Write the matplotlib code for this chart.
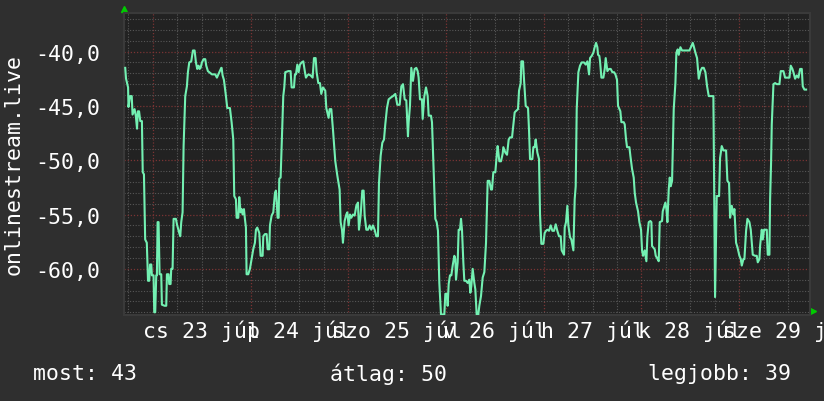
import matplotlib
matplotlib.use("Agg")
import matplotlib.pyplot as plt
import matplotlib.transforms as mtransforms
from matplotlib.ticker import FixedLocator, MultipleLocator, FuncFormatter

# hours since 23 Jul 00:00, signal value
hours = [-6.8, -6.6, -6.1, -6.0, -5.6, -5.2, -5.0, -4.5, -4.2, -3.9, -3.7, -3.4, -3.1, -2.7, -2.5, -2.2,
         -1.9, -1.5, -1.2, -0.9, -0.7, -0.4, -0.25, 0.16, 0.33, 0.57, 0.82, 0.98, 1.15, 1.39, 1.64, 2.05,
         2.21, 2.87, 3.28, 3.44, 3.85, 4.01, 4.34, 4.5, 4.83, 5.08, 5.65, 5.9, 6.47, 6.72, 6.96, 7.29,
         7.54, 7.94, 8.35, 8.6, 8.93, 9.42, 9.83, 10.24, 10.57, 10.89, 11.22, 11.47, 11.71, 12.04, 12.45,
         12.86, 13.1, 13.51, 13.84, 14.5, 15.31, 15.72, 16.3, 16.79,
         16.87, 17.12, 17.44, 17.94, 18.26, 18.92, 19.33, 19.74, 19.98, 20.39, 20.56, 20.97, 21.21, 21.54,
         21.79, 22.03, 22.36, 22.6, 22.85, 23.01, 23.42, 23.83, 24.24, 24.65, 25.06, 25.31, 25.63, 26.13,
         26.45, 26.95, 27.11, 27.52, 27.93, 28.18, 28.59, 28.75, 29.16, 29.57, 29.98, 30.22, 30.39, 30.63,
         30.88, 31.04, 31.37, 31.62, 32.02, 32.27, 32.51, 33.25, 33.82, 34.07, 34.65, 34.89, 35.14, 35.47,
         35.79, 36.12, 36.53, 36.94, 37.35, 37.59, 37.92, 38.25, 38.74, 39.23, 39.56, 39.97, 40.21, 40.62,
         41.03,
         41.36, 41.77, 42.34, 42.59, 43.16, 43.41, 43.82, 44.23, 44.8, 45.29, 45.86, 46.11, 46.44, 46.68,
         47.09, 47.5, 47.75, 48.07, 48.4, 48.73, 49.14, 49.55, 49.96, 50.37, 50.61, 51.02, 51.43, 51.76,
         52.01, 52.42, 52.83, 53.23, 53.64, 54.05, 54.46, 54.87, 55.28, 55.53, 55.94, 56.35, 56.76, 57.08,
         57.49, 57.9, 58.56, 58.97, 59.54, 60.03, 60.61, 61.02, 61.43, 61.84, 62.24, 62.65, 62.82, 63.14,
         63.47, 63.88, 64.29, 64.7,
         65.03, 65.27, 65.6, 66.09, 66.26, 66.67, 67.08, 67.49, 67.73, 68.3, 68.55, 68.88, 69.37, 69.7,
         70.02, 70.35, 70.76, 71.58, 71.83, 72.24, 72.4, 72.65, 72.97, 73.3, 73.63, 74.04, 74.28, 74.45,
         74.86, 75.1, 75.43, 75.68, 75.92, 76.25, 76.49, 76.9, 77.31, 77.72, 77.97, 78.21, 78.54, 78.95,
         79.2, 79.52, 79.93, 80.18, 80.59, 81.0, 81.41, 81.82, 82.23, 82.64, 83.05, 83.29, 83.62, 84.11,
         84.44, 84.68, 85.09, 85.5, 85.91, 86.08, 86.57, 86.98, 87.39, 87.71, 88.21, 88.53, 88.86, 89.11,
         89.68, 89.93, 90.34, 90.5, 90.91, 91.16, 91.57, 92.14, 92.38, 92.63, 93.2, 93.45, 93.77, 94.02,
         94.43, 94.84, 95.09, 95.41, 95.9, 96.23, 96.56, 96.89, 97.3, 97.71, 98.12, 98.53, 98.94, 99.34,
         99.75, 100.16, 100.41, 100.98, 101.15, 101.47, 101.8, 102.05, 102.46, 102.78, 103.28, 103.6,
         103.85, 104.1, 104.51, 104.91, 105.32, 105.9, 106.31, 106.72, 107.13, 107.37, 107.78, 108.19,
         108.52, 108.85, 109.17, 109.34, 109.66, 109.83, 110.16, 110.65, 110.98, 111.22, 111.63, 112.04,
         112.45, 112.86, 113.27,
         113.6, 114.0, 114.25, 114.58, 114.82, 115.07, 115.64, 115.89, 116.22, 116.46, 117.04, 117.28,
         117.69, 118.1, 118.35, 118.67, 119.16, 119.49, 119.9, 120.15, 120.39, 120.8, 121.21, 121.46,
         121.79, 122.19, 122.44, 122.6, 123.26, 123.51, 123.83, 124.24, 124.49, 125.06, 125.23, 125.47,
         125.88, 126.13, 126.37, 126.7, 126.95, 127.19, 127.52, 127.93, 128.34, 128.58, 128.91, 129.16,
         129.57, 129.97, 131.78, 132.27, 132.6, 132.84, 133.25, 133.66, 134.07, 134.48, 134.89, 135.3,
         135.71, 136.12, 136.53, 137.35,
         137.67, 138.08, 138.49, 139.07, 139.31, 139.72, 140.13, 140.79, 141.11, 141.52, 141.77, 142.18,
         142.59, 142.83, 143.24, 143.57, 144.06, 144.39, 144.64, 145.05, 145.29, 145.7, 146.03, 146.52,
         146.85, 147.34, 147.91, 148.32, 148.57, 148.98, 149.14, 149.55, 149.8, 150.12, 150.78, 151.02,
         151.43, 151.6, 151.84, 152.01, 152.42, 152.83, 153.24, 153.89, 154.22, 154.87, 155.28, 156.35,
         156.67, 157.08, 157.33, 157.74, 158.15, 158.56, 158.97, 159.38, 159.62, 160.03, 160.44]

values = [-41.5, -42.5, -43.3, -45.1, -44.1, -44.1, -45.8, -45.3, -45.9, -47.1, -45.5, -45.5, -46.4, -46.4,
          -51.1, -51.3, -57.3, -57.6, -61.1, -61.1, -59.6, -59.6, -60.6, -60.6, -64.0, -64.0, -60.6, -60.6,
          -55.7, -55.7, -60.5, -60.5, -63.3, -63.4, -63.4, -60.5, -60.5, -61.4, -61.4, -60.0, -60.0, -55.4,
          -55.4, -55.9, -56.7, -57.0, -55.7, -54.8, -48.7, -44.1, -43.2, -41.9, -41.0, -40.9, -39.9, -39.9,
          -41.0, -41.6, -41.3, -41.6, -41.5, -41.0, -40.7, -40.7, -41.3, -41.8, -41.9, -42.1, -42.1, -42.4,
          -41.9, -41.5,
          -41.5, -42.2, -42.6, -44.1, -45.2, -45.2, -46.5, -48.1, -53.3, -53.6, -55.3, -55.3, -53.4, -54.8,
          -54.5, -55.0, -54.5, -55.4, -56.2, -60.5, -60.5, -60.0, -59.1, -58.2, -57.6, -56.4, -56.2, -56.7,
          -58.8, -58.8, -57.0, -56.8, -56.8, -58.2, -58.2, -56.0, -55.1, -54.8, -53.0, -52.8, -53.7, -55.3,
          -55.3, -51.7, -51.6, -48.7, -44.1, -43.3, -41.9, -41.8, -41.8, -43.3, -43.3, -42.1, -42.1, -41.2,
          -41.9, -41.2, -41.0, -40.9, -41.9, -42.4, -42.2, -42.1, -42.2, -42.4, -40.6, -40.6, -41.9, -42.9,
          -42.9,
          -43.9, -43.3, -43.6, -45.2, -46.1, -45.3, -45.3, -47.2, -50.1, -51.4, -52.7, -55.7, -56.4, -57.6,
          -55.6, -55.0, -54.8, -56.0, -55.0, -55.3, -55.0, -55.1, -54.2, -53.9, -56.4, -55.1, -52.8, -52.8,
          -55.1, -56.4, -56.4, -56.0, -56.4, -56.0, -56.4, -57.0, -57.0, -52.1, -49.6, -48.4, -48.1, -46.7,
          -45.2, -44.4, -44.2, -44.1, -43.9, -44.9, -44.9, -43.2, -43.0, -44.4, -44.5, -47.8, -46.5, -45.0,
          -41.5, -42.7, -41.6, -41.5,
          -41.8, -42.4, -44.4, -44.4, -46.2, -44.1, -43.3, -44.1, -45.9, -45.9, -46.5, -50.1, -55.4, -55.7,
          -56.5, -61.3, -64.2, -64.2, -62.3, -62.3, -63.4, -61.4, -60.6, -60.6, -59.7, -58.8, -59.1, -61.0,
          -59.4, -56.4, -56.4, -55.4, -56.4, -59.4, -61.1, -61.1, -61.3, -61.0, -62.2, -61.6, -60.0, -61.3,
          -61.9, -64.2, -64.2, -63.4, -62.5, -60.8, -60.3, -57.6, -51.9, -51.9, -52.7, -52.7, -51.1, -51.1,
          -49.6, -48.7, -50.1, -50.1, -49.4, -48.8, -49.3, -49.5, -48.1, -47.9, -47.9, -46.8, -45.6, -45.5,
          -45.3, -43.6, -42.9, -40.9, -40.9, -42.6, -45.0, -45.2, -47.2, -49.9, -49.9, -48.8, -48.8, -48.1,
          -49.3, -49.9, -55.0, -57.7, -57.7, -56.7, -56.5, -56.4, -56.5, -56.0, -56.5, -56.5, -55.9, -56.5,
          -57.0, -57.0, -58.3, -58.7, -56.2, -55.7, -54.2, -56.0, -57.1, -57.3, -58.3, -53.6,
          -52.4, -45.3, -41.9, -41.3, -41.0, -41.0, -41.2, -40.9, -42.1, -40.6, -40.4, -40.1,
          -39.6, -39.2, -39.6, -40.3, -40.4, -40.9, -42.4, -42.4, -41.6, -40.6, -41.8, -41.6,
          -41.6, -41.9, -41.9,
          -42.1, -42.6, -45.0, -45.3, -45.5, -46.5, -46.5, -46.7, -48.1, -48.8, -48.8, -49.6,
          -50.8, -51.6, -53.0, -53.9, -54.7, -55.7, -56.4, -58.3, -58.8, -58.3, -59.3, -57.0,
          -55.7, -55.6, -55.7, -57.9, -58.2, -58.8, -59.0, -59.3, -55.7, -55.6, -54.7, -54.4,
          -53.9, -54.5, -55.7, -52.7, -51.6, -52.4, -51.9, -45.3, -42.9, -40.1, -39.8, -40.3,
          -39.6, -39.9, -39.9, -39.5, -39.2, -39.5, -40.1, -40.6, -42.5, -41.8, -41.5, -41.5,
          -41.9, -43.2, -44.1, -44.1,
          -44.1, -62.6, -53.3, -53.3, -49.8, -48.7, -49.1, -49.1, -51.9, -52.1, -55.3, -54.2,
          -55.0, -54.5, -57.6, -58.0, -58.8, -59.1, -59.7, -59.1, -59.1, -56.5, -55.4, -55.7,
          -56.4, -58.7, -58.8, -58.8, -59.4, -59.1, -57.9, -56.4, -57.3, -56.4, -56.4, -58.7,
          -58.7, -53.6, -50.2, -46.7, -43.0, -42.9, -43.0, -43.0, -41.8, -41.8, -42.4, -42.4,
          -41.3, -41.6, -41.9, -42.5, -42.2, -42.4, -41.6, -41.6, -43.2, -43.5, -43.5]

day_hours = [12, 36, 60, 84, 108, 132, 156]
day_labels = ["cs 23 júl", "p 24 júl", "szo 25 júl", "v 26 júl", "h 27 júl", "k 28 júl", "sze 29 júl"]
y_ticks = [-60, -55, -50, -45, -40]
series_name = "onlinestream.live"
stat_labels = ["most: 43", "átlag: 50", "legjobb: 39"]

plt.rcParams['font.family'] = 'DejaVu Sans Mono'
fs = 15.5

fig = plt.figure(figsize=(8.24, 4.02), dpi=100, facecolor="#2f2f2f")
ax = fig.add_axes([124 / 824, 86 / 402, 686 / 824, 302 / 402], facecolor="#222222")

ax.plot(hours, values, color="#73f0b2", linewidth=1.5, zorder=3)

ax.set_xlim(-7.1, 161.4)
ax.set_ylim(-64.25, -36.45)

# grids: gray dotted minor, red dotted major
ax.xaxis.set_major_locator(MultipleLocator(24))
ax.xaxis.set_minor_locator(MultipleLocator(6))
ax.yaxis.set_major_locator(FixedLocator(y_ticks))
ax.yaxis.set_minor_locator(MultipleLocator(1))
ax.grid(which="minor", color="#575757", linestyle=(0, (1, 1.5)), linewidth=0.8)
ax.grid(which="major", color="#7a3434", linestyle=(0, (1, 1.5)), linewidth=0.9)
ax.set_axisbelow(True)

ax.yaxis.set_major_formatter(FuncFormatter(lambda v, p: f"{v:.1f}".replace(".", ",")))
ax.tick_params(axis="y", which="both", length=0, pad=17, labelsize=fs, labelcolor="white")
ax.tick_params(axis="x", which="both", length=0, labelbottom=False)

for s in ax.spines.values():
    s.set_color("#3a3a3a")
    s.set_linewidth(1.5)

trans = mtransforms.blended_transform_factory(ax.transData, ax.transAxes)
for h, lab in zip(day_hours, day_labels):
    ax.text(h, -0.05, lab, transform=trans, ha="center", va="center",
            color="white", fontsize=fs, clip_on=False)

# little green arrows at the axis ends
ax.plot([0], [1.013], marker="^", color="#00cc00", markersize=5, transform=ax.transAxes, clip_on=False)
ax.plot([1.005], [0.013], marker=">", color="#00cc00", markersize=5, transform=ax.transAxes, clip_on=False)

fig.text(0.017, 0.59, series_name, rotation=90, ha="center", va="center", color="white", fontsize=fs)

fig.text(33 / 824, 0.07, stat_labels[0], ha="left", va="center", color="white", fontsize=fs)
fig.text(388 / 824, 0.07, stat_labels[1], ha="center", va="center", color="white", fontsize=fs)
fig.text(791 / 824, 0.07, stat_labels[2], ha="right", va="center", color="white", fontsize=fs)

fig.savefig("out.png", dpi=100, facecolor=fig.get_facecolor())
